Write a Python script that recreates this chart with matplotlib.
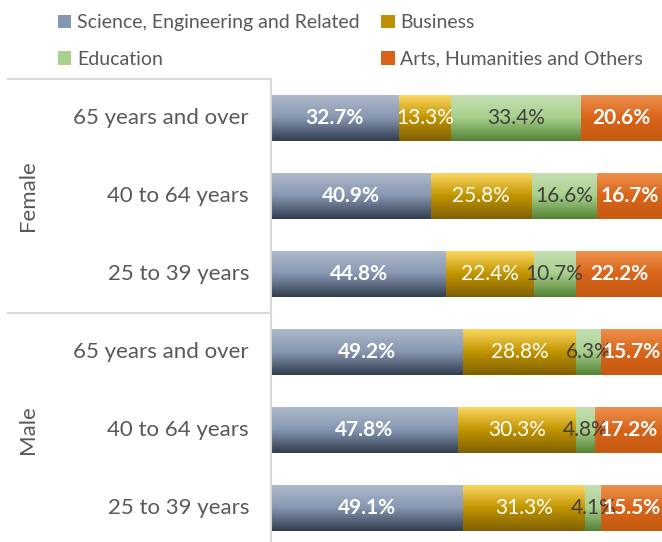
import matplotlib.pyplot as plt
import matplotlib.transforms as mtransforms
from matplotlib.colors import LinearSegmentedColormap
from matplotlib.patches import Patch
import numpy as np

plt.rcParams['font.family'] = ['Lato', 'DejaVu Sans']

# rows top to bottom
groups = ["Female", "Male"]
ages = ["65 years and over", "40 to 64 years", "25 to 39 years"]
fields = ["Science, Engineering and Related", "Business", "Education",
          "Arts, Humanities and Others"]

science = [32.7, 40.9, 44.8, 49.2, 47.8, 49.1]
business = [13.3, 25.8, 22.4, 28.8, 30.3, 31.3]
education = [33.4, 16.6, 10.7, 6.3, 4.8, 4.1]
arts = [20.6, 16.7, 22.2, 15.7, 17.2, 15.5]
series = [science, business, education, arts]

# gradient stops (top, middle, bottom) per field
grad = [
    ["#afbacb", "#8697b1", "#323e50"],
    ["#ffd966", "#c29500", "#7f6000"],
    ["#c6e0b5", "#a8d08d", "#548235"],
    ["#f0924f", "#d8651a", "#c55a11"],
]
mid_col = ["#8497b0", "#bf9000", "#a9d18e", "#d9631a"]
lbl_col = ["white", "white", "#404040", "white"]
lbl_wt = ["bold", "normal", "normal", "bold"]

fig = plt.figure(figsize=(6.62, 5.42), dpi=100)
ax = fig.add_axes([271 / 662, -5 / 542, 391 / 662, 468 / 542])

n = len(science)
y = np.arange(n)
left = np.zeros(n)
for k, vals in enumerate(series):
    bars = ax.barh(y, vals, left=left, height=0.6, color=mid_col[k],
                   edgecolor="none")
    cmap = LinearSegmentedColormap.from_list("g%d" % k, grad[k])
    for b, v in zip(bars, vals):
        x0, y0 = b.get_x(), b.get_y()
        w, h = b.get_width(), b.get_height()
        im = ax.imshow(np.linspace(0, 1, 64).reshape(-1, 1), cmap=cmap,
                       aspect="auto", extent=(x0, x0 + w, y0, y0 + h),
                       origin="lower", zorder=2)
        im.set_clip_path(b)
        ax.text(x0 + w / 2, y0 + h / 2, "%.1f%%" % v, ha="center",
                va="center", color=lbl_col[k], fontsize=15,
                fontweight=lbl_wt[k], zorder=3)
    left = left + np.array(vals)

ax.set_xlim(0, 100)
ax.set_ylim(n - 0.5, -0.5)
ax.set_xticks([])
ax.set_yticks([])
for s in ["top", "right", "bottom"]:
    ax.spines[s].set_visible(False)
ax.spines["left"].set_color("#d9d9d9")
ax.spines["left"].set_linewidth(1.5)

# category and group labels
trans = mtransforms.blended_transform_factory(ax.transAxes, ax.transData)
for i in range(n):
    ax.text(-22 / 391, i, ages[i % 3], transform=trans, ha="right",
            va="center", fontsize=16, color="#595959")
for g, name in enumerate(groups):
    ax.text(-243 / 391, g * 3 + 1, name, transform=trans, ha="center",
            va="center", rotation=90, fontsize=16, color="#595959")
for yy in [-0.5, 2.5]:
    ax.plot([-263 / 391, 0], [yy, yy], transform=trans, color="#d9d9d9",
            lw=1.5, clip_on=False)

handles = [Patch(facecolor=mid_col[k]) for k in [0, 2, 1, 3]]
labels = [fields[k] for k in [0, 2, 1, 3]]
fig.legend(handles, labels, ncol=2, loc="upper left",
           bbox_to_anchor=(40 / 662, 1.006), frameon=False, fontsize=14,
           labelcolor="#595959", handlelength=0.7, handleheight=0.7,
           handletextpad=0.3, columnspacing=1.1, labelspacing=1.0)

fig.savefig("out.png", dpi=100)
